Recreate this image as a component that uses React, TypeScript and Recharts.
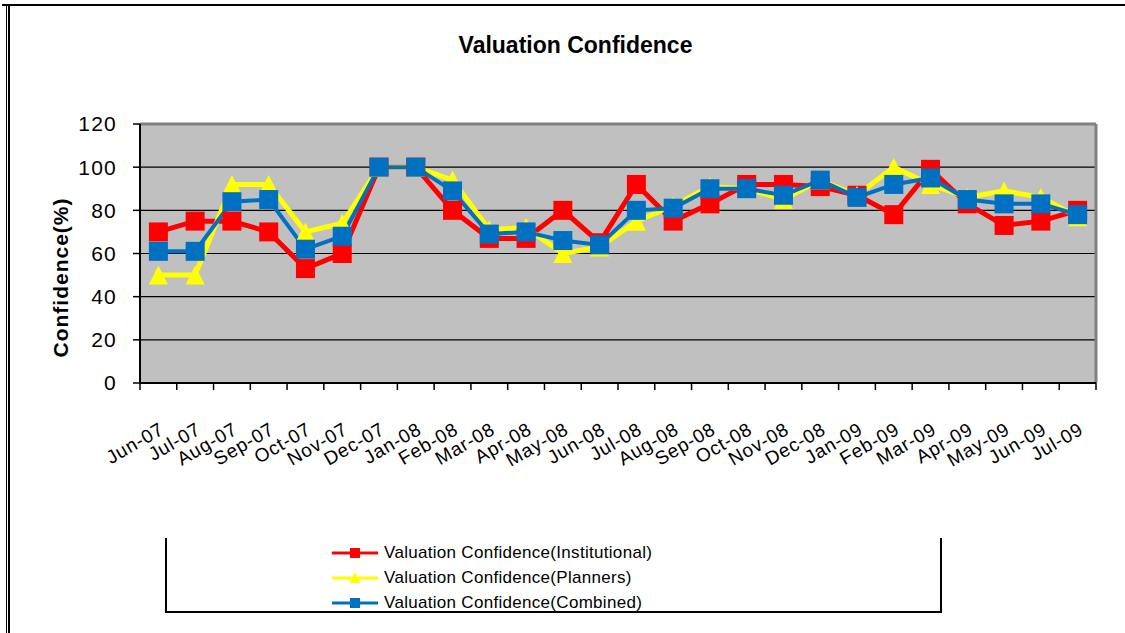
import { LineChart, Line, XAxis, YAxis, CartesianGrid, Legend } from 'recharts';

const months = [
  'Jun-07', 'Jul-07', 'Aug-07', 'Sep-07', 'Oct-07', 'Nov-07', 'Dec-07', 'Jan-08', 'Feb-08',
  'Mar-08', 'Apr-08', 'May-08', 'Jun-08', 'Jul-08', 'Aug-08', 'Sep-08', 'Oct-08', 'Nov-08',
  'Dec-08', 'Jan-09', 'Feb-09', 'Mar-09', 'Apr-09', 'May-09', 'Jun-09', 'Jul-09',
];
const institutional = [70, 75, 75, 70, 53, 60, 100, 100, 80, 67, 67, 80, 65, 92, 75, 83, 92, 92, 91, 87, 78, 99, 83, 73, 75, 80];
const planners = [50, 50, 92, 92, 70, 74, 100, 100, 94, 71, 72, 60, 63, 75, 82, 91, 90, 85, 94, 87, 100, 92, 86, 89, 86, 77];
const combined = [61, 61, 84, 85, 62, 68, 100, 100, 89, 69, 70, 66, 64, 80, 81, 90, 90, 87, 94, 86, 92, 95, 85, 83, 83, 78];
const yTicks = [0, 20, 40, 60, 80, 100, 120];
const seriesOrder = ['institutional', 'planners', 'combined'];

const data = months.map((month, i) => ({
  month,
  institutional: institutional[i],
  planners: planners[i],
  combined: combined[i],
}));

const W = 1125;
const H = 633;
const margin = { top: 124, right: 29, bottom: 220, left: 80 };
const Y_AXIS_W = 60;
const PLOT_W = W - margin.left - margin.right - Y_AXIS_W;
const PLOT_H = H - margin.top - margin.bottom;
const PLOT_RIGHT = margin.left + Y_AXIS_W + PLOT_W;
const BAND = PLOT_W / months.length;
const FONT = '"Liberation Sans", Arial, Helvetica, sans-serif';

const RED = '#FF0000';
const YELLOW = '#FFFF00';
const BLUE = '#0070C0';

const squareDot = (color: string, size: number) => (p: any) => (
  <rect key={`sq-${p.index}`} x={p.cx - size / 2} y={p.cy - size / 2} width={size} height={size} fill={color} />
);

const triangleDot = (color: string, size: number) => (p: any) => (
  <polygon
    key={`tr-${p.index}`}
    points={`${p.cx},${p.cy - size / 2} ${p.cx + size / 2},${p.cy + size / 2} ${p.cx - size / 2},${p.cy + size / 2}`}
    fill={color}
  />
);

function MonthTick({ x, y, payload, index }: any) {
  const last = index === months.length - 1;
  const tx = x + 7;
  const ty = y + 50;
  return (
    <g>
      <line x1={x - BAND / 2} x2={x - BAND / 2} y1={y} y2={y + 7} stroke="#000" strokeWidth={1.5} />
      {last && <line x1={x + BAND / 2} x2={x + BAND / 2} y1={y} y2={y + 7} stroke="#000" strokeWidth={1.5} />}
      <text
        x={tx}
        y={ty}
        transform={`rotate(-30, ${tx}, ${ty})`}
        textAnchor="end"
        fontSize={19}
        letterSpacing={0.8}
        fontFamily={FONT}
        fill="#000"
      >
        {payload.value}
      </text>
    </g>
  );
}

const shapes: Record<string, string> = {
  institutional: 'square',
  planners: 'triangle',
  combined: 'square',
};

function LegendBox({ payload }: any) {
  const items = [...(payload || [])].sort(
    (a: any, b: any) => seriesOrder.indexOf(a.dataKey) - seriesOrder.indexOf(b.dataKey),
  );
  return (
    <div
      style={{
        width: 777,
        height: 75,
        boxSizing: 'border-box',
        borderLeft: '2px solid #000',
        borderRight: '2px solid #000',
        borderBottom: '2px solid #000',
        paddingLeft: 165,
        paddingTop: 2,
        fontFamily: FONT,
        fontSize: 17,
        letterSpacing: 0.3,
        color: '#000',
      }}
    >
      {items.map((entry: any) => (
        <div key={entry.dataKey} style={{ display: 'flex', alignItems: 'center', height: 25 }}>
          <svg width={46} height={14} style={{ marginRight: 6 }}>
            <line x1={0} x2={46} y1={7} y2={7} stroke={entry.color} strokeWidth={3} />
            {shapes[entry.dataKey] === 'square' ? (
              <rect x={18} y={2} width={10} height={10} fill={entry.color} />
            ) : (
              <polygon points="23,1 28.5,12 17.5,12" fill={entry.color} />
            )}
          </svg>
          <span>{entry.value}</span>
        </div>
      ))}
    </div>
  );
}

export default function App() {
  return (
    <div style={{ position: 'absolute', left: 0, top: 0, width: W, height: H, background: '#fff' }}>
      <div style={{ position: 'absolute', left: 2, right: 0, top: 4, height: 2, background: '#000' }} />
      <div style={{ position: 'absolute', left: 6, width: 1, top: 4, bottom: 0, background: '#000' }} />
      <div style={{ position: 'absolute', left: 8, width: 1.5, top: 4, bottom: 0, background: '#000' }} />
      <div
        style={{
          position: 'absolute',
          left: 0,
          width: W,
          top: 32,
          textAlign: 'center',
          fontFamily: FONT,
          fontWeight: 'bold',
          fontSize: 23,
          color: '#000',
          paddingLeft: 26,
          boxSizing: 'border-box',
        }}
      >
        Valuation Confidence
      </div>
      <LineChart width={W} height={H} data={data} margin={margin} style={{ position: 'absolute', left: 0, top: 0 }}>
        <CartesianGrid vertical={false} stroke="#000" strokeWidth={1.2} fill="#C0C0C0" fillOpacity={1} />
        <CartesianGrid
          horizontalPoints={[margin.top]}
          verticalPoints={[PLOT_RIGHT]}
          stroke="#808080"
          strokeWidth={3}
        />
        <XAxis
          dataKey="month"
          interval={0}
          padding={{ left: BAND / 2, right: BAND / 2 }}
          tickLine={false}
          tickSize={0}
          tickMargin={0}
          axisLine={{ stroke: '#000', strokeWidth: 2 }}
          tick={<MonthTick />}
        />
        <YAxis
          width={Y_AXIS_W}
          domain={[0, 120]}
          ticks={yTicks}
          interval={0}
          tickSize={7}
          tickMargin={16}
          tickLine={{ stroke: '#000', strokeWidth: 1.5 }}
          axisLine={{ stroke: '#000', strokeWidth: 2 }}
          tick={{ fontSize: 21, fontFamily: FONT, fill: '#000', letterSpacing: 1.2 }}
          label={{
            content: () => {
              const lx = margin.left - 20;
              const ly = margin.top + PLOT_H / 2 + 9;
              return (
                <text
                  x={lx}
                  y={ly}
                  transform={`rotate(-90, ${lx}, ${ly})`}
                  textAnchor="middle"
                  dominantBaseline="central"
                  fontSize={21}
                  letterSpacing={1}
                  fontWeight="bold"
                  fontFamily={FONT}
                  fill="#000"
                >
                  Confidence(%)
                </text>
              );
            },
          }}
        />
        <Legend
          layout="vertical"
          align="center"
          verticalAlign="middle"
          wrapperStyle={{ left: 165, top: 538, width: 777, height: 75 }}
          content={<LegendBox />}
        />
        <Line
          type="linear"
          dataKey="institutional"
          name="Valuation Confidence(Institutional)"
          stroke={RED}
          strokeWidth={5}
          dot={squareDot(RED, 19)}
          activeDot={false}
          isAnimationActive={false}
        />
        <Line
          type="linear"
          dataKey="planners"
          name="Valuation Confidence(Planners)"
          stroke={YELLOW}
          strokeWidth={5}
          dot={triangleDot(YELLOW, 19)}
          activeDot={false}
          isAnimationActive={false}
        />
        <Line
          type="linear"
          dataKey="combined"
          name="Valuation Confidence(Combined)"
          stroke={BLUE}
          strokeWidth={4}
          dot={squareDot(BLUE, 19)}
          activeDot={false}
          isAnimationActive={false}
        />
      </LineChart>
    </div>
  );
}
